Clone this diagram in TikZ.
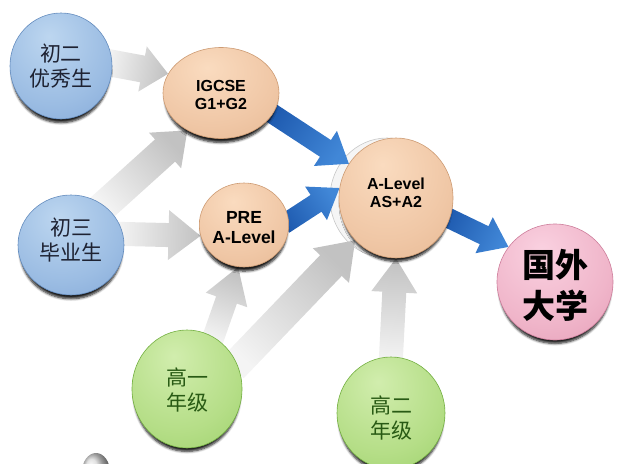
\documentclass[tikz,border=0pt]{standalone}
\usepackage{fontspec}
\setmainfont{Liberation Sans}
\newfontfamily\cjk{Noto Sans CJK SC}
\usetikzlibrary{shapes.geometric,calc,shadows.blur}

\definecolor{stuText}{RGB}{30,34,50}
\definecolor{gradeText}{RGB}{40,90,20}
\definecolor{blueEdge}{RGB}{100,140,190}
\definecolor{tanEdge}{RGB}{205,155,115}
\definecolor{pinkEdge}{RGB}{205,125,155}
\definecolor{greenEdge}{RGB}{115,175,65}
\definecolor{flowTail}{RGB}{244,244,244}
\definecolor{flowHead}{RGB}{194,194,194}
\definecolor{pathTail}{RGB}{30,90,175}
\definecolor{pathHead}{RGB}{65,135,215}

\pgfdeclarelayer{background}
\pgfsetlayers{background,main}

\pgfdeclareradialshading{shBlue}{\pgfpoint{-6bp}{14bp}}{rgb(0bp)=(0.74,0.84,0.94); rgb(28bp)=(0.61,0.74,0.89); rgb(52bp)=(0.48,0.63,0.83); rgb(66bp)=(0.41,0.56,0.77); rgb(100bp)=(0.41,0.56,0.77)}
\pgfdeclareradialshading{shTan}{\pgfpoint{-6bp}{14bp}}{rgb(0bp)=(0.98,0.86,0.75); rgb(28bp)=(0.94,0.78,0.65); rgb(52bp)=(0.89,0.70,0.55); rgb(66bp)=(0.82,0.62,0.46); rgb(100bp)=(0.82,0.62,0.46)}
\pgfdeclareradialshading{shPink}{\pgfpoint{-6bp}{14bp}}{rgb(0bp)=(0.98,0.82,0.88); rgb(28bp)=(0.94,0.71,0.79); rgb(52bp)=(0.88,0.58,0.69); rgb(66bp)=(0.80,0.48,0.60); rgb(100bp)=(0.80,0.48,0.60)}
\pgfdeclareradialshading{shGreen}{\pgfpoint{-6bp}{14bp}}{rgb(0bp)=(0.82,0.93,0.68); rgb(28bp)=(0.71,0.87,0.53); rgb(52bp)=(0.58,0.80,0.38); rgb(66bp)=(0.48,0.72,0.28); rgb(100bp)=(0.48,0.72,0.28)}

% two lines, moved down by the optional amount
\newcommand{\two}[3][0pt]{\raisebox{-#1}[\height][\depth]{\begin{tabular}{@{}c@{}}#2\\#3\end{tabular}}}

% block arrow: style, from, to, half shaft, half head, head length
\newcommand{\flow}[6]{%
  \coordinate (fs) at ($(#2)!-6pt!(#3)$);
  \coordinate (fe) at (#3);
  \coordinate (fh) at ($(fe)!#6!(fs)$);
  \pgfmathanglebetweenpoints{\pgfpointanchor{fs}{center}}{\pgfpointanchor{fe}{center}}%
  \pgfmathsetmacro{\flowangle}{\pgfmathresult-90}%
  \path[#1, shading angle=\flowangle] ($(fs)!#4!90:(fe)$) -- ($(fh)!#4!90:(fe)$)
    -- ($(fh)!#5!90:(fe)$) -- (fe) -- ($(fh)!#5!-90:(fe)$)
    -- ($(fh)!#4!-90:(fe)$) -- ($(fs)!#4!-90:(fe)$) -- cycle;
}

\begin{document}
\begin{tikzpicture}[x=1pt,y=-1pt]
    \tikzstyle{ball}=[ellipse, inner sep=0pt, align=center, line width=0.6pt,
        blur shadow={shadow xshift=0pt, shadow yshift=-6pt, shadow scale=0.96, shadow opacity=90, shadow blur radius=2.5pt, shadow blur steps=6}]
    \tikzstyle{stu}=[ball, shading=shBlue, draw=blueEdge, text=stuText, font=\cjk\fontsize{21}{25}\selectfont]
    \tikzstyle{course}=[ball, shading=shTan, draw=tanEdge, font=\bfseries\fontsize{16}{18}\selectfont]
    \tikzstyle{grade}=[ball, shading=shGreen, draw=greenEdge, text=gradeText, font=\cjk\fontsize{21}{25}\selectfont]
    \tikzstyle{grayflow}=[top color=flowHead, bottom color=flowTail]
    \tikzstyle{blueflow}=[top color=pathHead, bottom color=pathTail]

    \useasboundingbox (0,0) rectangle (625,464);

    \node[stu, minimum width=102pt, minimum height=106pt] (c2) at (61,66) {\two[3pt]{初二}{优秀生}};
    \node[stu, minimum width=106pt, minimum height=100pt] (c3) at (71,245) {\two[-2pt]{初三}{毕业生}};
    \node[course, minimum width=116pt, minimum height=91pt] (ig) at (221,93) {\two[4pt]{IGCSE}{G1+G2}};
    \node[course, minimum width=76pt, minimum height=84pt, font=\bfseries\fontsize{17.5}{20}\selectfont] (pre) at (244,225) {\two[4pt]{PRE}{A-Level}};
    \node[course, minimum width=114pt, minimum height=120pt] (al) at (396,198) {\two[-3pt]{A-Level}{AS+A2}};
    \node[ball, shading=shPink, draw=pinkEdge, minimum width=116pt, minimum height=116pt,
        font=\cjk\bfseries\fontsize{33}{40}\selectfont] (uni) at (555,282) {\two[8pt]{国外}{大学}};
    \node[grade, minimum width=110pt, minimum height=118pt] (g1) at (187,389) {\two[4pt]{高一}{年级}};
    \node[grade, minimum width=108pt, minimum height=112pt] (g2) at (391,413) {\two[8pt]{高二}{年级}};
    \shade[ball color=gray!30] (96,472) ellipse (14 and 19);

    \begin{pgfonlayer}{background}
        \path[fill=black!4, draw=black!22, line width=0.6pt] (387,198) ellipse (57 and 60);
        \flow{grayflow}{c2.3}{ig.160}{13.5pt}{23pt}{26pt}
        \flow{grayflow}{c3.50}{ig.228}{15pt}{24pt}{30pt}
        \flow{grayflow}{c3.12}{pre.194}{12pt}{25pt}{32pt}
        \flow{grayflow}{g1.63}{pre.262}{11pt}{22pt}{35pt}
        \flow{grayflow}{g1.27}{al.226}{15pt}{25pt}{35pt}
        \flow{grayflow}{g2.90}{al.270}{12pt}{23pt}{34pt}
        \flow{blueflow}{ig.-22}{al.144}{10pt}{21pt}{28pt}
        \flow{blueflow}{pre.5}{al.170}{10pt}{20pt}{28pt}
        \flow{blueflow}{al.-21}{uni.143}{10pt}{20pt}{27pt}
    \end{pgfonlayer}
\end{tikzpicture}
\end{document}
